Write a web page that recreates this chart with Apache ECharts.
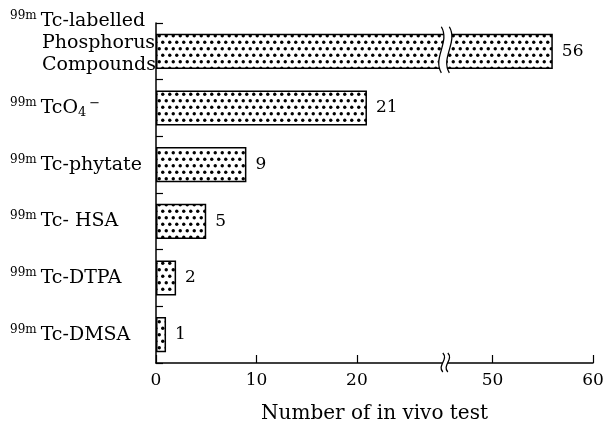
<!DOCTYPE html>
<html><head><meta charset="utf-8">
<script src="https://cdn.jsdelivr.net/npm/echarts@6/dist/echarts.min.js"></script>
<style>html,body{margin:0;padding:0;background:#fff}#c{width:606px;height:427px}</style>
</head><body><div id="c"></div>
<script>
// ---- data ----
const isotope = '99m';
const categories = ['Tc-labelled Phosphorus Compounds', 'TcO4-', 'Tc-phytate', 'Tc- HSA', 'Tc-DTPA', 'Tc-DMSA'];
const counts = [56, 21, 9, 5, 2, 1];
const tickValues = [0, 10, 20, 50, 60];
const axisBreak = { start: 28.8, end: 45.3 };
const xTitle = 'Number of in vivo test';

const FONT = 'DejaVu Serif';

// dotted pattern
function makePattern() {
  const c = document.createElement('canvas');
  c.width = 7; c.height = 13;
  const g = c.getContext('2d');
  g.fillStyle = '#fff'; g.fillRect(0, 0, 7, 13);
  g.fillStyle = '#000';
  [[1.75, 3.25], [5.25, 9.75]].forEach(([x, y]) => { g.beginPath(); g.arc(x, y, 1.7, 0, Math.PI * 2); g.fill(); });
  return c;
}
const pattern = { image: makePattern(), repeat: 'repeat' };

function catLabel(name) {
  const head = '{sup|' + isotope + '}';
  if (name === 'TcO4-') return head + '{m|TcO}{sub|4}{sup2|−}';
  const words = name.split(' ');
  if (name.indexOf('Phosphorus') >= 0) {
    return head + '{m|' + words[0] + '}\n{ind|}{m|' + words[1] + '}\n{ind|}{m|' + words[2] + '}\n{gap|}';
  }
  return head + '{m|' + name + '}';
}

function wavePath(x, y1, y2, amp) {
  const h = y2 - y1;
  return 'M' + x + ',' + y1 + ' C' + (x + amp) + ',' + (y1 + h / 3) + ' ' + (x - amp) + ',' + (y1 + 2 * h / 3) + ' ' + x + ',' + y2;
}
function breakMark(cx, y1, y2, amp, half) {
  const h = y2 - y1, xl = cx - half, xr = cx + half;
  const fill = 'M' + xl + ',' + y1 + ' C' + (xl + amp) + ',' + (y1 + h / 3) + ' ' + (xl - amp) + ',' + (y1 + 2 * h / 3) + ' ' + xl + ',' + y2 +
    ' L' + xr + ',' + y2 + ' C' + (xr - amp) + ',' + (y1 + 2 * h / 3) + ' ' + (xr + amp) + ',' + (y1 + h / 3) + ' ' + xr + ',' + y1 + ' Z';
  return [
    { type: 'path', shape: { pathData: fill }, style: { fill: '#fff', stroke: null } },
    { type: 'path', shape: { pathData: wavePath(xl, y1, y2, amp) }, style: { fill: null, stroke: '#000', lineWidth: 1.3 } },
    { type: 'path', shape: { pathData: wavePath(xr, y1, y2, amp) }, style: { fill: null, stroke: '#000', lineWidth: 1.3 } }
  ];
}

const brokenBars = counts.map((v, i) => [axisBreak.start, i, v]).filter(d => d[2] > axisBreak.end);

const chart = echarts.init(document.getElementById('c'), null, { renderer: 'canvas' });
chart.setOption({
  backgroundColor: '#fff',
  animation: false,
  grid: { left: 156, right: 13, top: 23, bottom: 64, outerBoundsMode: 'none' },
  xAxis: {
    type: 'value', min: 0, max: 60, interval: 10,
    breaks: [{ start: axisBreak.start, end: axisBreak.end, gap: 0 }],
    breakArea: { show: false },
    axisLine: { show: true, lineStyle: { color: '#000', width: 1.5 } },
    axisTick: { show: true, inside: true, length: 8, customValues: tickValues, lineStyle: { color: '#000', width: 1.2 } },
    splitLine: { show: false },
    axisLabel: {
      margin: 9, fontFamily: FONT, fontSize: 17, color: '#000', customValues: tickValues,
      formatter: v => String(v)
    },
    name: xTitle, nameLocation: 'middle', nameGap: 41,
    nameTextStyle: { fontFamily: FONT, fontSize: 20, color: '#000' }
  },
  yAxis: {
    type: 'category', data: categories, inverse: true,
    axisLine: { show: true, lineStyle: { color: '#000', width: 1.5 } },
    axisTick: { show: true, inside: true, length: 7, lineStyle: { color: '#000', width: 1.2 } },
    axisLabel: {
      interval: 0, margin: 146, align: 'left', color: '#000',
      formatter: catLabel,
      rich: {
        m: { fontFamily: FONT, fontSize: 19, lineHeight: 22, color: '#000' },
        sup: { fontFamily: FONT, fontSize: 12, lineHeight: 22, verticalAlign: 'top', padding: [0, 4, 0, 0], color: '#000' },
        ind: { width: 32, lineHeight: 22 },
        gap: { lineHeight: 17, fontSize: 1 },
        sub: { fontFamily: FONT, fontSize: 13, lineHeight: 22, verticalAlign: 'bottom', color: '#000' },
        sup2: { fontFamily: FONT, fontSize: 13, lineHeight: 22, verticalAlign: 'top', padding: [0, 0, 0, 3], color: '#000' }
      }
    }
  },
  series: [
    {
      type: 'bar', data: counts, barCategoryGap: '38%',
      itemStyle: { color: pattern, borderColor: '#000', borderWidth: 1.5 },
      label: { show: true, position: 'right', distance: 9, fontFamily: FONT, fontSize: 17, color: '#000' }
    },
    {
      type: 'custom', data: brokenBars, silent: true, z: 10,
      renderItem: function (params, api) {
        const p = api.coord([api.value(0), api.value(1)]);
        const band = api.size([0, 1])[1];
        const bh = band * 0.62;
        return { type: 'group', children: breakMark(p[0], p[1] - bh / 2 - 7, p[1] + bh / 2 + 4, 9, 4) };
      }
    },
    {
      type: 'custom', data: [[axisBreak.start, 0]], silent: true, z: 10,
      renderItem: function (params, api) {
        const p = api.coord([api.value(0), api.value(1)]);
        const yb = params.coordSys.y + params.coordSys.height;
        return { type: 'group', children: breakMark(p[0], yb - 10, yb + 9, 6, 2.5) };
      }
    }
  ]
});
</script>
</body></html>
